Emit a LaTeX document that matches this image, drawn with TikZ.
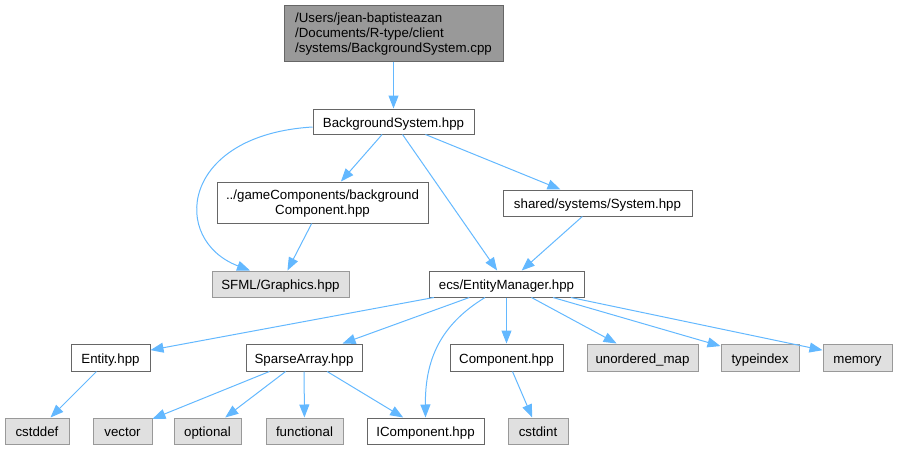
\documentclass[tikz,border=0pt]{standalone}
\usepackage{fontspec}
\setmainfont{Liberation Sans}
\usetikzlibrary{arrows.meta}
\definecolor{edgec}{HTML}{63B8FF}
\definecolor{bordc}{HTML}{666666}
\definecolor{extb}{HTML}{999999}
\definecolor{extf}{HTML}{E0E0E0}
\definecolor{topf}{HTML}{999999}
\begin{document}
\begin{tikzpicture}[x=1pt,y=-1pt,
  nb/.style={draw=bordc, line width=1pt, fill=white, inner sep=0pt, minimum height=26pt, font=\fontsize{13.3}{15}\selectfont, text=black},
  box/.style={nb, text height=11.5pt, text depth=0pt},
  ext/.style={box, draw=extb, fill=extf},
  edge/.style={draw=edgec, line width=1pt, -{Triangle[length=13pt,width=10pt]}}]
\useasboundingbox (0,0) rectangle (897,450);
% nodes
\node[nb, fill=topf, minimum width=219pt, minimum height=56pt, align=left, text depth=0pt] (cpp) at (393.5,33) {/Users/jean-baptisteazan\\/Documents/R-type/client\\/systems/BackgroundSystem.cpp};
\node[box, minimum width=161pt, minimum height=25pt] (BS) at (393.5,121.5) {BackgroundSystem.hpp};
\node[nb, minimum width=211pt, minimum height=41pt, align=center, text depth=0pt] (GC) at (322.5,202.5) {../gameComponents/background\\Component.hpp};
\node[box, minimum width=189pt] (Sys) at (597.5,203) {shared/systems/System.hpp};
\node[ext, minimum width=137pt] (SFML) at (280.5,284) {SFML/Graphics.hpp};
\node[box, minimum width=155pt] (EM) at (506.5,284) {ecs/EntityManager.hpp};
\node[box, minimum width=79pt, minimum height=27pt] (Ent) at (110.5,357.5) {Entity.hpp};
\node[box, minimum width=116pt, minimum height=27pt] (SA) at (304,357.5) {SparseArray.hpp};
\node[box, minimum width=113pt, minimum height=27pt] (Comp) at (506.5,357.5) {Component.hpp};
\node[ext, minimum width=111pt, minimum height=27pt] (umap) at (642.5,357.5) {unordered\_map};
\node[ext, minimum width=78pt, minimum height=27pt] (tidx) at (760,357.5) {typeindex};
\node[ext, minimum width=69pt, minimum height=27pt] (mem) at (857.5,357.5) {memory};
\node[ext, minimum width=64pt] (cstddef) at (37,431) {cstddef};
\node[ext, minimum width=59pt] (vec) at (122.5,431) {vector};
\node[ext, minimum width=67pt] (opt) at (207.5,431) {optional};
\node[ext, minimum width=77pt] (func) at (304.5,431) {functional};
\node[box, minimum width=117pt] (IC) at (425.5,431) {IComponent.hpp};
\node[ext, minimum width=60pt] (cstdint) at (538,431) {cstdint};
% edges
\draw[edge] (cpp) -- (BS);
\draw[edge] ([yshift=-5.5pt]BS.west) .. controls (180,135) and (170,240) .. ([xshift=-30.5pt]SFML.north);
\draw[edge] (BS) -- (GC);
\draw[edge] (BS) -- ([xshift=-37pt]Sys.north);
\draw[edge] (BS) -- (EM);
\draw[edge] (Sys) -- (EM);
\draw[edge] (GC) -- (SFML);
\draw[edge] (EM) -- (Ent);
\draw[edge] (EM) -- (SA);
\draw[edge] ([xshift=-21.5pt]EM.south) .. controls (440,325) and (425,360) .. (IC.north);
\draw[edge] (EM) -- (Comp);
\draw[edge] (EM) -- (umap);
\draw[edge] (EM) -- (tidx);
\draw[edge] (EM) -- (mem);
\draw[edge] (Ent) -- (cstddef);
\draw[edge] (SA) -- (vec);
\draw[edge] (SA) -- (opt);
\draw[edge] (SA) -- (func);
\draw[edge] (SA) -- (IC);
\draw[edge] (Comp) -- (cstdint);
\end{tikzpicture}
\end{document}
